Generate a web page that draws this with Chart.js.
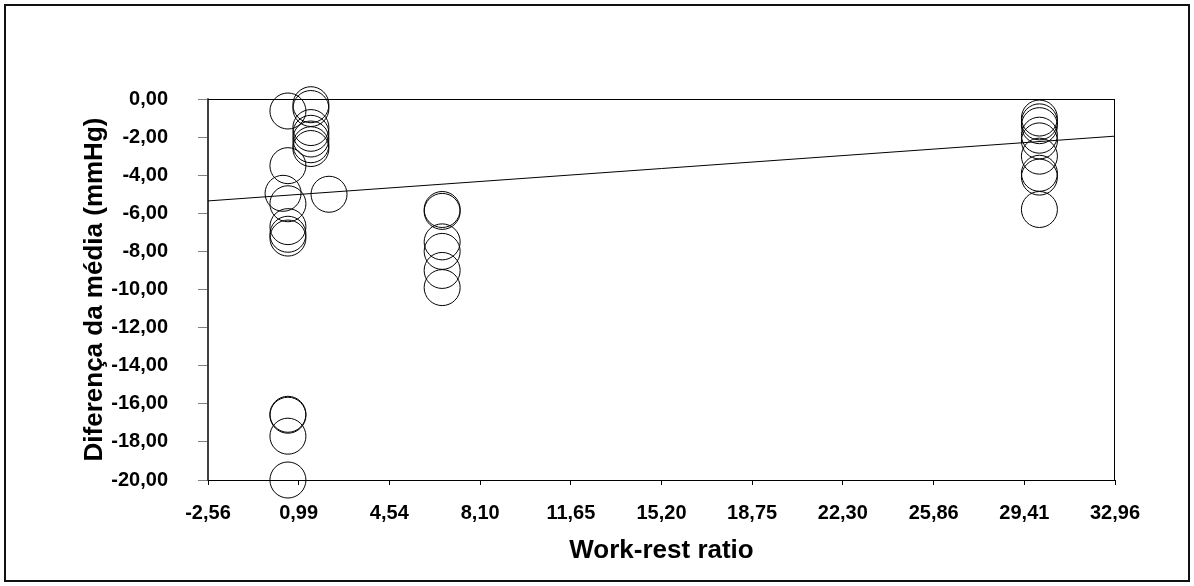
<!DOCTYPE html>
<html>
<head>
<meta charset="utf-8">
<script src="https://cdn.jsdelivr.net/npm/chart.js@4.4.1/dist/chart.umd.min.js"></script>
<style>
  html, body { margin: 0; padding: 0; background: #fff; }
  #wrap { width: 1194px; height: 586px; position: relative; }
</style>
</head>
<body>
<div id="wrap"><canvas id="chart"></canvas></div>
<script>
// --- datos ---
const xTicks = [-2.56, 0.99, 4.54, 8.10, 11.65, 15.20, 18.75, 22.30, 25.86, 29.41, 32.96];
const yTicks = [0, -2, -4, -6, -8, -10, -12, -14, -16, -18, -20];

// razón trabajo-descanso de cada punto
const ratioX = [
  0.57, 0.57, 0.38, 0.57, 0.57, 0.57, 0.57, 0.57, 0.57, 0.57, 0.57,
  1.47, 1.47, 1.47, 1.47, 1.47, 1.47, 1.47,
  2.18,
  6.61, 6.61, 6.61, 6.61, 6.61, 6.61,
  30.0, 30.0, 30.0, 30.0, 30.0, 30.0, 30.0, 30.0, 30.0
];
// diferença da média (mmHg)
const diffY = [
  -0.63, -3.5, -4.95, -5.5, -6.7, -7.1, -7.3, -16.55, -16.6, -17.7, -20.0,
  -0.3, -0.5, -1.5, -1.8, -2.1, -2.4, -2.6,
  -5.0,
  -5.8, -5.9, -7.5, -8.0, -9.0, -9.9,
  -1.0, -1.2, -1.4, -1.9, -2.2, -3.0, -3.9, -4.1, -5.8
];

// linha de tendência (extremos)
const trendX = [-2.56, 32.96];
const trendY = [-5.35, -1.95];

const fontBold = (size) => ({ family: 'Liberation Sans, Arial, sans-serif', size: size, weight: 'bold', lineHeight: 1.2 });

// moldura externa e borda da área de plotagem
const frames = {
  id: 'frames',
  beforeDatasetsDraw(chart) {
    const { ctx, chartArea: a } = chart;
    ctx.save();
    ctx.strokeStyle = '#000';
    ctx.lineWidth = 1;
    ctx.strokeRect(a.left, a.top + 0.5, a.right - a.left - 0.5, a.bottom - a.top);
    ctx.restore();
  },
  afterDraw(chart) {
    const ctx = chart.ctx;
    ctx.save();
    ctx.strokeStyle = '#111';
    ctx.lineWidth = 2;
    ctx.strokeRect(5, 5, chart.width - 10, chart.height - 10);
    ctx.restore();
  }
};

const scatterPts = ratioX.map((x, i) => ({ x: x, y: diffY[i] }));
const trendPts = trendX.map((x, i) => ({ x: x, y: trendY[i] }));

new Chart(document.getElementById('chart'), {
  type: 'scatter',
  data: {
    datasets: [
      {
        data: scatterPts,
        pointRadius: 18,
        pointHoverRadius: 18,
        pointStyle: 'circle',
        backgroundColor: 'rgba(0,0,0,0)',
        borderColor: '#000',
        borderWidth: 1,
        clip: false
      },
      {
        type: 'line',
        data: trendPts,
        showLine: true,
        pointRadius: 0,
        borderColor: '#000',
        borderWidth: 1,
        fill: false
      }
    ]
  },
  options: {
    responsive: true,
    maintainAspectRatio: false,
    animation: false,
    layout: { padding: { top: 99, right: 79, left: 0, bottom: 0 } },
    plugins: { legend: { display: false }, tooltip: { enabled: false } },
    scales: {
      x: {
        type: 'linear',
        min: xTicks[0],
        max: xTicks[xTicks.length - 1],
        afterBuildTicks: (s) => { s.ticks = xTicks.map(v => ({ value: v })); },
        afterFit: (s) => { s.height = 106; },
        border: { display: true, color: '#000', width: 1 },
        grid: { drawOnChartArea: false, drawTicks: true, tickLength: 5, tickColor: '#000' },
        ticks: {
          color: '#000',
          font: fontBold(20),
          padding: 16,
          maxRotation: 0,
          autoSkip: false,
          callback: (v) => v.toFixed(2).replace('.', ',')
        },
        title: {
          display: true,
          text: 'Work-rest ratio',
          color: '#000',
          font: { family: 'Liberation Sans, Arial, sans-serif', size: 26, weight: 'bold', lineHeight: 1 },
          padding: { top: 0, bottom: 22 }
        }
      },
      y: {
        type: 'linear',
        min: -20,
        max: 0,
        afterBuildTicks: (s) => { s.ticks = yTicks.map(v => ({ value: v })); },
        afterFit: (s) => { s.width = 208; },
        border: { display: true, color: '#808080', width: 2 },
        grid: { drawOnChartArea: false, drawTicks: true, tickLength: 10, tickColor: '#808080' },
        ticks: {
          color: '#000',
          font: fontBold(20),
          padding: 30,
          autoSkip: false,
          callback: (v) => v.toFixed(2).replace('.', ',')
        },
        title: {
          display: true,
          text: 'Diferença da média (mmHg)',
          color: '#000',
          font: { family: 'Liberation Sans, Arial, sans-serif', size: 26, weight: 'bold', lineHeight: 1 },
          padding: { top: 82, bottom: 0 }
        }
      }
    }
  },
  plugins: [frames]
});
</script>
</body>
</html>
